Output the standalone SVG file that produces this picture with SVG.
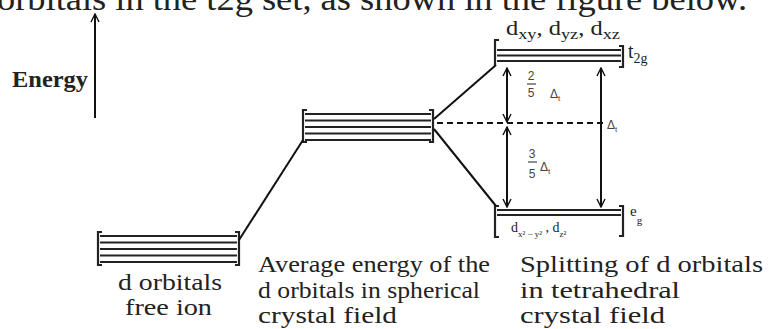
<svg xmlns="http://www.w3.org/2000/svg" width="773" height="329" viewBox="0 0 773 329">
<style>
.lv{stroke:#222;stroke-width:2;fill:none}
.br{stroke:#222;stroke-width:2.2;fill:none}
.cn{stroke:#111;stroke-width:2;fill:none}
.ar{stroke:#111;stroke-width:2;fill:none;marker-start:url(#ah);marker-end:url(#ah)}
.t{font-family:"Liberation Serif","Times New Roman",serif;fill:#222}
.s{font-family:"Liberation Sans",Arial,sans-serif;fill:#444}
</style>
<defs>
<marker id="ah" viewBox="0 0 10 10" refX="9" refY="5" markerWidth="5" markerHeight="5" orient="auto-start-reverse" markerUnits="strokeWidth">
<path d="M1,1 L9,5 L1,9" fill="none" stroke="#111" stroke-width="1.4"/>
</marker>
</defs>
<rect width="773" height="329" fill="#fff"/>
<text class="t" x="-3" y="10" font-size="34" fill="#111" textLength="750" lengthAdjust="spacingAndGlyphs">orbitals in the t2g set, as shown in the figure below.</text>

<g id="energy-axis">
<line class="cn" x1="95" y1="118" x2="95" y2="14" style="marker-end:url(#ah)"/>
<text class="t" x="12" y="87" font-size="23" font-weight="bold" textLength="76" lengthAdjust="spacingAndGlyphs">Energy</text>
</g>

<g id="free-ion">
<path class="br" d="M102,232 H98 V265 H102 M235,232 H239 V265 H235"/>
<path class="lv" d="M100,236 H237 M100,242.5 H237 M100,249 H237 M100,255.5 H237 M100,262 H237"/>
<text class="t" x="118" y="290" font-size="24" textLength="104" lengthAdjust="spacingAndGlyphs">d orbitals</text>
<text class="t" x="125" y="315" font-size="24" textLength="87" lengthAdjust="spacingAndGlyphs">free ion</text>
</g>

<g id="spherical">
<path class="br" d="M307,110 H303 V142 H307 M429,110 H433 V142 H429"/>
<path class="lv" d="M305,114 H431 M305,120.5 H431 M305,127 H431 M305,133.5 H431 M305,140 H431"/>
<text class="t" x="258" y="272" font-size="24" textLength="232" lengthAdjust="spacingAndGlyphs">Average energy of the</text>
<text class="t" x="258" y="298" font-size="24" textLength="222" lengthAdjust="spacingAndGlyphs">d orbitals in spherical</text>
<text class="t" x="258" y="323" font-size="24" textLength="139" lengthAdjust="spacingAndGlyphs">crystal field</text>
</g>

<g id="t2g">
<path class="br" d="M499,40 H495 V66 M619,46 H623 V67 H619"/>
<path class="lv" d="M497,50 H621 M497,55.5 H621 M497,61 H621"/>
<text class="t" x="506" y="35" font-size="20" textLength="114" lengthAdjust="spacingAndGlyphs">d<tspan font-size="15" dy="4">xy</tspan><tspan dy="-4">, d</tspan><tspan font-size="15" dy="4">yz</tspan><tspan dy="-4">, d</tspan><tspan font-size="15" dy="4">xz</tspan></text>
<text class="t" x="628" y="58" font-size="20">t<tspan font-size="14" dy="5">2g</tspan></text>
</g>

<g id="eg">
<path class="br" d="M499,206 H495 V237 H499 M619,206 H623 V236 H619"/>
<path class="lv" d="M497,210 H621 M497,215 H621"/>
<text class="t" x="511" y="232" font-size="14">d<tspan font-size="9" dy="5">x² − y²</tspan><tspan dy="-5"> , d</tspan><tspan font-size="9" dy="5">z²</tspan></text>
<text class="t" x="630" y="216" font-size="15">e<tspan font-size="11" dy="8">g</tspan></text>
</g>

<g id="tetrahedral-label">
<text class="t" x="520" y="272" font-size="24" textLength="243" lengthAdjust="spacingAndGlyphs">Splitting of d orbitals</text>
<text class="t" x="520" y="298" font-size="24" textLength="160" lengthAdjust="spacingAndGlyphs">in tetrahedral</text>
<text class="t" x="520" y="323" font-size="24" textLength="145" lengthAdjust="spacingAndGlyphs">crystal field</text>
</g>

<g id="connectors">
<line class="cn" x1="239" y1="240" x2="303" y2="140"/>
<line class="cn" x1="434" y1="119" x2="496" y2="65"/>
<line class="cn" x1="434" y1="129" x2="496" y2="206"/>
<line class="cn" x1="437" y1="123" x2="604" y2="123" stroke-dasharray="6,4"/>
<line class="ar" x1="507" y1="68" x2="507" y2="122"/>
<line class="ar" x1="507" y1="127" x2="507" y2="207"/>
<line class="ar" x1="601" y1="68" x2="601" y2="207"/>
</g>

<g id="splitting-labels">
<text class="s" x="531" y="80" font-size="12" text-anchor="middle">2</text>
<line x1="527" y1="84" x2="536" y2="84" stroke="#444" stroke-width="1.2"/>
<text class="s" x="531" y="97" font-size="12" text-anchor="middle">5</text>
<text class="s" x="550" y="98" font-size="12">Δ<tspan font-size="8" dy="3">t</tspan></text>
<text class="s" x="532" y="158" font-size="12" text-anchor="middle">3</text>
<line x1="528" y1="162" x2="537" y2="162" stroke="#444" stroke-width="1.2"/>
<text class="s" x="532" y="178" font-size="12" text-anchor="middle">5</text>
<text class="s" x="540" y="171" font-size="12">Δ<tspan font-size="8" dy="3">t</tspan></text>
<text class="s" x="607" y="129" font-size="12">Δ<tspan font-size="8" dy="3">t</tspan></text>
</g>
</svg>
